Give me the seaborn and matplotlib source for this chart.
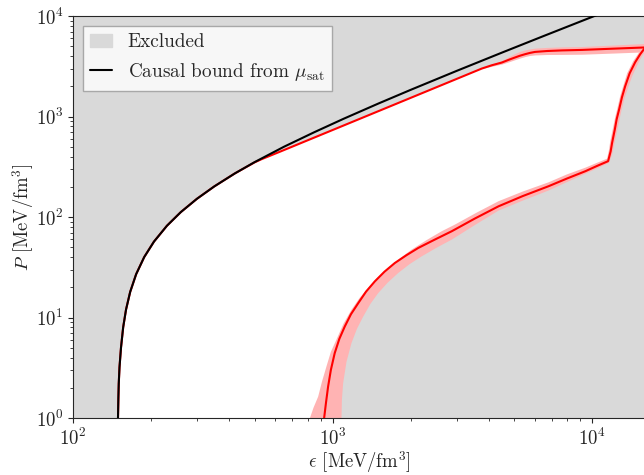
import numpy as np
import matplotlib
matplotlib.use("Agg")
import matplotlib.pyplot as plt
import seaborn as sns
from matplotlib.patches import Patch
from matplotlib.lines import Line2D

# causal bound from mu_sat (black)
causal_eps = [149, 149.5, 150, 151, 153, 156, 160, 166, 175, 188, 205, 230, 260,
              300, 350, 420, 500, 650, 850, 1100, 1500, 2000, 3000, 4500, 6500,
              10000, 12000]
causal_p = [1.0, 1.6, 2.2, 3.2, 5, 8, 12, 18, 27, 40, 57, 82, 112,
            152, 202, 272, 352, 502, 700, 950, 1350, 1850, 2850, 4350, 6350,
            9850, 11850]

# upper edge of allowed region (red)
upper_eps = [149, 150, 151, 153, 156, 160, 166, 175, 188, 205, 230, 260, 300,
             350, 420, 500, 530, 634, 1542, 3750, 4100, 4480, 4769, 5030, 5258,
             5500, 5747, 6010, 6686, 7638, 9125, 11917, 16120]
upper_p = [1.0, 2.2, 3.2, 5, 8, 12, 18, 27, 40, 57, 82, 112, 152,
           202, 272, 350, 375, 453, 1167, 3007, 3245, 3453, 3682, 3873, 4036,
           4178, 4305, 4405, 4497, 4560, 4612, 4741, 4885]
upper_band_eps = [3750, 4100, 4480, 4769, 5030, 5258, 5500, 5747, 6010, 6686,
                  7638, 9125, 11917, 16120]
upper_band_lo = [3007, 3171, 3336, 3516, 3683, 3826, 3961, 4064, 4110, 4151,
                 4159, 4179, 4286, 4416]
upper_band_hi = [3007, 3320, 3616, 3947, 4245, 4456, 4613, 4718, 4806, 4884,
                 4943, 4986, 5149, 5354]

# lower edge of allowed region (red)
lower_eps = [926, 942, 960, 984, 1018, 1061, 1113, 1176, 1254, 1344, 1453,
             1583, 1735, 1925, 2136, 2470, 2872, 3525, 4352, 5400, 6788, 7986,
             9397, 10427, 11498, 11759, 11917, 12206, 12403, 12682, 13001,
             13376, 13922, 14620, 15283, 15977, 16120]
lower_p = [0.977, 1.41, 2.05, 3.01, 4.42, 6.14, 8.14, 10.8, 13.9, 18.1, 22.9,
           28.6, 34.9, 41.8, 49.3, 59.6, 72.2, 96.6, 128, 162, 203, 242,
           286, 323, 360, 450, 550, 746, 939, 1181, 1556,
           2003, 2701, 3477, 4178, 4874, 4885]

# band around the lower edge: white side and grey side
band_in_eps = [815, 843, 879, 909, 946, 984, 1033, 1100, 1181, 1268, 1370,
               1488, 1637, 1810, 2013, 2300, 2628, 2958, 3589, 4352, 5400,
               6788, 7986, 9397, 10427, 11396, 11600, 11704, 12023, 12241,
               12460, 12797, 13143, 13618, 14366, 15154, 15836, 16120]
band_in_p = [0.977, 1.26, 1.63, 2.29, 3.25, 4.55, 6.0, 8.66, 11.95, 15.6, 19.7,
             24.9, 31.1, 38.6, 47.4, 59.0, 72.2, 84.2, 110.9, 143.8, 179.7,
             222, 266, 310, 347, 381, 471, 554, 781, 983,
             1181, 1592, 2003, 2701, 3557, 4374, 5137, 5300]
band_out_eps = [1081, 1085, 1097, 1130, 1181, 1240, 1310, 1398, 1497, 1627,
                1789, 1978, 2200, 2514, 2872, 3525, 4352, 5400, 6788, 7986,
                9397, 10427, 11600, 11917, 12132, 12460, 12682, 12897, 13258,
                13734, 14231, 15015, 15696, 16300]
band_out_p = [0.977, 1.51, 2.22, 3.62, 5.56, 7.72, 10.2, 13.7, 17.5, 22.2,
              27.8, 34.0, 40.6, 49.6, 59.6, 83.2, 116, 146, 184, 223,
              270, 305, 347, 420, 529, 729, 897, 1103, 1486,
              1957, 2520, 3398, 4178, 4700]

sns.set_style("ticks")
plt.rcParams['font.family'] = 'serif'
plt.rcParams['font.serif'] = ['cmr10']
plt.rcParams['mathtext.fontset'] = 'cm'
plt.rcParams['axes.formatter.use_mathtext'] = True
plt.rcParams['font.size'] = 13.5

fig = plt.figure(figsize=(6.44, 4.75), dpi=100)
ax = fig.add_axes([0.1134, 0.12, 0.89, 0.846])
ax.set_xscale('log')
ax.set_yscale('log')
ax.set_facecolor('0.85')

# allowed region in white
poly_eps = np.concatenate([upper_eps, lower_eps[::-1]])
poly_p = np.concatenate([upper_p, lower_p[::-1]])
ax.fill(poly_eps, poly_p, color='white', lw=0, zorder=1)

# uncertainty bands
ax.fill_between(upper_band_eps, upper_band_lo, upper_band_hi, color='#ffb3b3', lw=0, zorder=2)
band_eps = np.concatenate([band_in_eps, band_out_eps[::-1]])
band_p = np.concatenate([band_in_p, band_out_p[::-1]])
ax.fill(band_eps, band_p, color='#ffb3b3', lw=0, zorder=2)

sns.lineplot(x=upper_eps, y=upper_p, ax=ax, color='red', lw=1.5, sort=False, estimator=None, zorder=3)
sns.lineplot(x=lower_eps, y=lower_p, ax=ax, color='red', lw=1.5, sort=False, estimator=None, zorder=3)
sns.lineplot(x=causal_eps, y=causal_p, ax=ax, color='black', lw=1.5, sort=False, estimator=None, zorder=4)

ax.set_xlim(100, 16120)
ax.set_ylim(1, 1e4)
ax.set_xlabel(r'$\epsilon$ [MeV/fm$^3$]', labelpad=0)
ax.set_ylabel(r'$P$ [MeV/fm$^3$]', labelpad=0)

handles = [Patch(color='0.85', label='Excluded'),
           Line2D([], [], color='black', lw=1.5, label=r'Causal bound from $\mu_{\rm sat}$')]
ax.legend(handles=handles, loc='upper left', fontsize=13.8, fancybox=False,
          edgecolor='0.6', handlelength=1.15)

fig.savefig('out.png', dpi=100)
